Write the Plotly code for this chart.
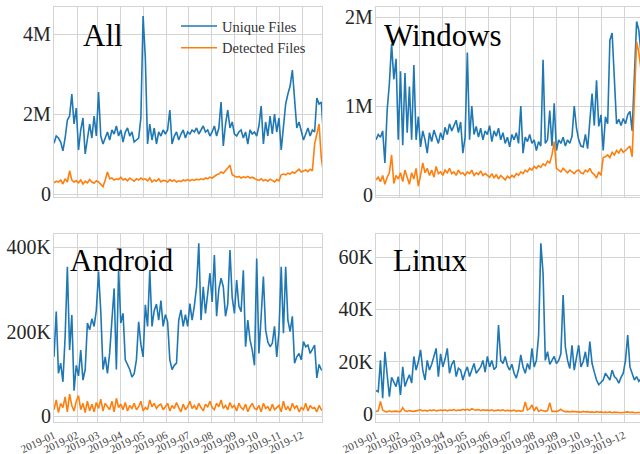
import pandas as pd
import plotly.graph_objects as go

START = "2019-01-01"
STEP = "3D"

# ---- All (millions) ----
all_unique = [1.27, 1.45, 1.40, 1.30, 1.08, 1.40, 1.85, 1.95, 2.50, 1.75, 2.15,
              1.10, 1.60, 1.90, 1.00, 1.45, 1.75, 1.40, 1.95, 1.45,
              2.55, 1.45, 1.25, 1.40, 1.55, 1.35, 1.60, 1.50, 1.70, 1.45,
              1.60, 1.30, 1.55, 1.65, 1.45, 1.55, 1.30, 1.35, 1.40, 1.90,
              4.45, 3.40, 1.25, 1.75, 1.35, 1.65, 1.25, 1.55, 1.45, 1.60,
              1.50, 1.60, 2.10, 1.25, 1.45, 1.55, 1.35, 1.50, 1.60, 1.40, 1.55,
              1.50, 1.60, 1.55, 1.65, 1.50, 1.60, 1.70, 1.55, 1.60, 1.45,
              1.55, 1.70, 1.45, 1.65, 2.30, 1.20, 1.75, 2.10, 1.65, 1.80,
              1.50, 1.45, 1.55, 1.60, 1.40, 1.55, 1.25, 1.60, 1.50, 1.55,
              1.45, 1.70, 2.20, 1.25, 1.80, 1.45, 1.95, 1.50, 2.00, 1.55, 1.90, 1.10,
              1.70, 2.25, 2.50, 2.70, 3.10, 2.40, 1.65, 1.80, 1.60, 1.35,
              1.50, 1.65, 1.45, 1.60, 1.55, 2.40, 2.25, 2.30, 1.45]
all_detected = [0.28, 0.32, 0.30, 0.35, 0.25, 0.38, 0.30, 0.58, 0.35, 0.30, 0.33,
                0.28, 0.35, 0.25, 0.32, 0.28, 0.36, 0.30, 0.27, 0.33,
                0.30, 0.25, 0.18, 0.35, 0.55, 0.38, 0.40, 0.35, 0.38, 0.36,
                0.42, 0.35, 0.38, 0.33, 0.40, 0.36, 0.32, 0.38, 0.35, 0.40,
                0.36, 0.38, 0.33, 0.40, 0.30, 0.35, 0.32, 0.38, 0.30, 0.34,
                0.33, 0.30, 0.36, 0.32, 0.35, 0.30, 0.33, 0.31, 0.35, 0.33, 0.36,
                0.33, 0.36, 0.34, 0.37, 0.35, 0.38, 0.36, 0.40, 0.38, 0.42,
                0.40, 0.45, 0.48, 0.50, 0.55, 0.52, 0.60, 0.65, 0.72, 0.48,
                0.45, 0.42, 0.44, 0.40, 0.43, 0.41, 0.44, 0.40, 0.42, 0.38,
                0.36, 0.34, 0.38, 0.33, 0.36, 0.32, 0.37, 0.34, 0.30, 0.36, 0.33, 0.48,
                0.50, 0.48, 0.52, 0.50, 0.55, 0.52, 0.58, 0.62, 0.55, 0.58,
                0.60, 0.56, 0.62, 0.58, 1.25, 1.50, 1.75, 0.90, 0.50]

# ---- Windows (millions) ----
windows_unique = [0.62, 0.68, 0.65, 0.72, 0.36, 0.95, 1.25, 1.70, 1.30, 1.53, 0.62,
                  1.39, 0.56, 1.37, 0.70, 1.22, 0.62, 1.46, 0.62, 0.88,
                  0.54, 0.72, 0.62, 0.47, 0.70, 0.60, 0.73, 0.65, 0.58, 0.70,
                  0.62, 0.76, 0.68, 0.80, 0.72, 0.78, 0.84, 0.70, 0.82, 0.47,
                  0.65, 1.60, 0.62, 1.00, 0.68, 0.77, 0.65, 0.75, 0.62, 0.72,
                  0.68, 0.78, 0.60, 0.72, 0.66, 0.75, 0.62, 0.70, 0.58, 0.65, 0.54,
                  0.68, 0.62, 0.70, 0.58, 1.00, 0.47, 0.65, 0.60, 0.68, 0.58,
                  0.62, 0.50, 0.60, 0.55, 1.52, 0.58, 0.62, 0.95, 0.55, 1.03,
                  0.50, 0.62, 0.58, 0.65, 0.55, 0.62, 0.58, 0.66, 1.00, 0.75,
                  0.62, 0.55, 0.54, 0.68, 0.52, 0.85, 1.14, 0.78, 1.29, 0.77, 0.90, 0.50,
                  0.88, 0.80, 1.74, 1.82, 1.29, 0.80, 0.85, 0.78, 0.86, 0.80,
                  0.90, 0.94, 0.72, 1.44, 1.95, 1.85, 1.60, 1.30, 1.20]
windows_detected = [0.17, 0.20, 0.15, 0.22, 0.12, 0.20, 0.25, 0.45, 0.13, 0.22, 0.18,
                    0.25, 0.15, 0.28, 0.20, 0.12, 0.25, 0.18, 0.30, 0.10,
                    0.22, 0.36, 0.25, 0.30, 0.22, 0.28, 0.20, 0.32, 0.24, 0.26,
                    0.22, 0.28, 0.25, 0.30, 0.24, 0.26, 0.22, 0.28, 0.24, 0.25,
                    0.22, 0.26, 0.24, 0.28, 0.22, 0.25, 0.23, 0.27, 0.22, 0.24,
                    0.22, 0.20, 0.24, 0.19, 0.23, 0.18, 0.22, 0.20, 0.17, 0.21, 0.19,
                    0.22, 0.20, 0.24, 0.22, 0.26, 0.24, 0.28, 0.26, 0.30, 0.28,
                    0.32, 0.30, 0.33, 0.31, 0.35, 0.33, 0.38, 0.36, 0.45, 0.60,
                    0.30, 0.28, 0.26, 0.30, 0.27, 0.25, 0.28, 0.26, 0.24, 0.27,
                    0.28, 0.25, 0.24, 0.28, 0.26, 0.30, 0.25, 0.23, 0.19, 0.26, 0.22, 0.42,
                    0.43, 0.45, 0.42, 0.48, 0.45, 0.50, 0.47, 0.52, 0.48, 0.50,
                    0.52, 0.55, 0.43, 1.15, 1.72, 1.60, 1.40, 1.30, 1.20]

# ---- Android (thousands) ----
android_unique = [140, 247, 101, 125, 81, 188, 353, 156, 239, 60, 120,
                  95, 156, 85, 110, 220, 204, 230, 212, 250,
                  342, 247, 110, 140, 101, 150, 227, 302, 110, 345,
                  220, 243, 133, 120, 110, 92, 100, 133, 223, 170,
                  140, 263, 212, 345, 212, 250, 265, 227, 273, 212,
                  240, 223, 133, 110, 120, 125, 227, 251, 212, 240, 212,
                  266, 227, 260, 306, 409, 227, 306, 243, 290, 338,
                  270, 381, 236, 300, 326, 306, 236, 265, 393, 280,
                  243, 322, 260, 247, 345, 164, 227, 180, 156, 120,
                  373, 148, 236, 330, 204, 175, 164, 172, 212, 140, 200, 353,
                  196, 353, 227, 200, 236, 125, 140, 148, 133, 176,
                  164, 168, 148, 160, 168, 90, 122, 110, 108]
android_detected = [15, 38, 8, 30, 20, 45, 10, 52, 25, 12, 35,
                    48, 15, 30, 8, 35, 12, 28, 10, 32,
                    18, 40, 12, 30, 22, 15, 35, 10, 42, 20,
                    28, 15, 32, 12, 25, 18, 30, 15, 22, 35,
                    12, 20, 15, 38, 22, 30, 18, 25, 28, 15,
                    22, 30, 12, 25, 18, 32, 20, 10, 28, 15, 22,
                    35, 18, 25, 15, 30, 20, 12, 28, 22, 35,
                    20, 15, 30, 22, 38, 18, 25, 15, 32, 20,
                    25, 12, 30, 20, 15, 28, 10, 22, 30, 18,
                    15, 25, 10, 30, 18, 22, 12, 28, 15, 20, 25, 10,
                    35, 15, 22, 12, 30, 18, 25, 10, 20, 15,
                    30, 12, 25, 18, 20, 10, 25, 15, 12]

# ---- Linux (thousands) ----
linux_unique = [9.0, 8.5, 20.5, 6.0, 23.8, 14.3, 6.6, 14.0, 12.0, 10.5, 14.3,
                7.3, 18.0, 10.5, 13.0, 15.0, 11.8, 22.0, 16.8, 20.0,
                24.5, 16.8, 13.0, 20.5, 16.8, 19.0, 22.0, 25.1, 14.3, 23.0,
                18.0, 21.0, 25.1, 15.6, 19.0, 20.5, 14.3, 17.5, 16.8, 13.0,
                16.0, 18.0, 14.3, 17.0, 19.3, 15.6, 17.0, 18.0, 20.5, 16.0,
                22.0, 18.0, 20.5, 17.0, 18.0, 34.0, 20.5, 19.3, 22.0, 18.5, 16.8,
                19.0, 15.6, 13.7, 17.0, 22.6, 18.0, 15.6, 19.3, 17.0, 25.1,
                18.0, 20.5, 30.0, 65.3, 53.8, 20.5, 23.8, 19.0, 20.5, 22.0,
                19.3, 20.5, 23.0, 45.5, 25.7, 20.5, 17.4, 26.3, 16.8, 21.0,
                26.3, 18.0, 20.0, 23.8, 18.0, 27.7, 19.3, 16.0, 13.0, 11.2, 12.0, 13.0,
                15.6, 14.0, 13.0, 16.8, 14.3, 13.5, 11.8, 14.0, 15.6, 20.5,
                30.2, 18.0, 15.6, 13.0, 14.3, 12.5, 13.5, 12.0, 13.0]
linux_detected = [1.0, 1.2, 4.8, 1.5, 1.0, 0.8, 1.2, 0.9, 1.0, 1.1, 0.9,
                  1.0, 2.4, 1.2, 1.0, 1.3, 1.1, 1.0, 1.2, 1.4,
                  1.6, 1.2, 1.4, 1.1, 1.5, 1.3, 1.6, 1.2, 1.4, 1.5,
                  1.3, 1.6, 1.2, 1.5, 1.4, 1.7, 1.3, 1.5, 1.4, 1.8,
                  1.5, 1.8, 1.4, 2.0, 1.6, 1.5, 1.7, 1.3, 1.6, 1.4,
                  1.5, 1.3, 1.6, 1.2, 1.4, 1.5, 1.3, 1.6, 1.2, 1.4, 1.3,
                  1.2, 1.5, 1.0, 1.3, 1.1, 1.2, 4.6, 1.5, 2.0, 3.5,
                  1.2, 2.7, 1.0, 1.5, 1.2, 1.0, 1.3, 4.3, 1.0, 0.9,
                  1.0, 1.2, 1.8, 1.1, 0.9, 1.0, 0.8, 1.0, 0.9, 0.8,
                  0.9, 0.7, 1.0, 0.8, 0.9, 0.7, 0.8, 0.6, 0.9, 0.7, 0.8, 0.6,
                  0.7, 0.6, 0.8, 0.5, 0.7, 0.6, 0.7, 0.5, 0.6, 0.7,
                  0.8, 0.6, 0.7, 0.5, 0.6, 0.5, 0.6, 0.4, 0.5]

panel_titles = ["All", "Windows", "Android", "Linux"]
series_names = ["Unique Files", "Detected Files"]
month_ticks = pd.date_range("2019-01-01", "2019-12-01", freq="MS")
month_labels = [d.strftime("%Y-%m") for d in month_ticks]

y_ticks = {
    "All": ([0, 2, 4], ["0", "2M", "4M"]),
    "Windows": ([0, 1, 2], ["0", "1M", "2M"]),
    "Android": ([0, 200, 400], ["0", "200K", "400K"]),
    "Linux": ([0, 20, 40, 60], ["0", "20K", "40K", "60K"]),
}
data = {
    "All": (all_unique, all_detected),
    "Windows": (windows_unique, windows_detected),
    "Android": (android_unique, android_detected),
    "Linux": (linux_unique, linux_detected),
}

# ---------------- layout (pixels of the 640x454 window) ----------------
W, H = 640, 454
FONT = "Liberation Serif"
GRID = "#d4d4d4"
BLUE = "#1f77b4"
ORANGE = "#ff7f0e"
PX_PER_DAY = 0.7425

boxes = {  # left, right, top, bottom (px)
    "All": (54, 322, 7, 197),
    "Windows": (376, 640, 7, 197),
    "Android": (54, 322, 234, 422),
    "Linux": (376, 640, 234, 422),
}
calib = {  # y pixel of zero, px per unit
    "All": (194, 40.0),
    "Windows": (195, 89.0),
    "Android": (416, 0.4225),
    "Linux": (414, 2.615),
}
title_pos = {
    "All": (81, 35),
    "Windows": (382, 35),
    "Android": (68, 260),
    "Linux": (391, 260),
}


def fx(x):
    return x / W


def fy(y):
    return 1 - y / H


fig = go.Figure()
layout = dict(
    width=W, height=H, margin=dict(l=0, r=0, t=0, b=0, autoexpand=False),
    paper_bgcolor="white", plot_bgcolor="white",
    font=dict(family=FONT, color="#262626"),
    showlegend=True,
    legend=dict(x=fx(176), y=fy(10), xanchor="left", yanchor="top",
                bgcolor="rgba(0,0,0,0)", font=dict(family=FONT, size=14.5, color="#333333"),
                itemwidth=36, tracegroupgap=0),
    annotations=[],
)

start = pd.Timestamp(START)
for i, name in enumerate(panel_titles):
    idx = "" if i == 0 else str(i + 1)
    xa, ya = "x" + idx, "y" + idx
    l, r, t, b = boxes[name]
    uniq, det = data[name]
    for vals, sname, col in ((uniq, series_names[0], BLUE), (det, series_names[1], ORANGE)):
        dates = pd.date_range(START, periods=len(vals), freq=STEP)
        fig.add_trace(go.Scatter(x=dates, y=vals, mode="lines", name=sname,
                                 line=dict(color=col, width=1.6),
                                 showlegend=(i == 0), xaxis=xa, yaxis=ya))
    bottom_row = name in ("Android", "Linux")
    right_col = name in ("Windows", "Linux")
    x_end = start + pd.Timedelta(days=(r - l) / PX_PER_DAY)
    layout["xaxis" + idx] = dict(
        domain=[fx(l), min(1.0, fx(r))], anchor=ya, type="date", range=[start, x_end],
        tickmode="array", tickvals=list(month_ticks), ticktext=month_labels,
        showticklabels=bottom_row, tickangle=-25, automargin=False,
        ticklabeloverflow="allow", ticklabelstandoff=2,
        tickfont=dict(family=FONT, size=11, color="#444444"),
        showgrid=True, gridcolor=GRID, gridwidth=1,
        showline=True, linecolor=GRID, linewidth=1.2, mirror=True,
        zeroline=False, ticks="",
    )
    z, ppu = calib[name]
    tv, tt = y_ticks[name]
    layout["yaxis" + idx] = dict(
        domain=[fy(b), fy(t)], anchor=xa, range=[(z - b) / ppu, (z - t) / ppu],
        tickmode="array", tickvals=tv, ticktext=tt, automargin=False,
        ticklabeloverflow="allow", ticklabelstandoff=-2,
        tickfont=dict(family=FONT, size=20, color="#262626"),
        showgrid=True, gridcolor=GRID, gridwidth=1,
        showline=True, linecolor=GRID, linewidth=1.2, mirror=not right_col,
        zeroline=False, ticks="",
    )
    tx, ty = title_pos[name]
    layout["annotations"].append(dict(
        text=name, xref="paper", yref="paper", x=fx(tx), y=fy(ty),
        xanchor="left", yanchor="middle", showarrow=False,
        font=dict(family=FONT, size=31, color="black"),
    ))

fig.update_layout(**layout)

# remove the page's default 8px body margin so the 640x454 figure fills the window
PAGE_FIX = ("document.body.style.margin='0';"
            "document.body.style.overflow='hidden';"
            "document.documentElement.style.overflow='hidden';")
fig.write_html("out.html", post_script=PAGE_FIX, config={"displayModeBar": False})
